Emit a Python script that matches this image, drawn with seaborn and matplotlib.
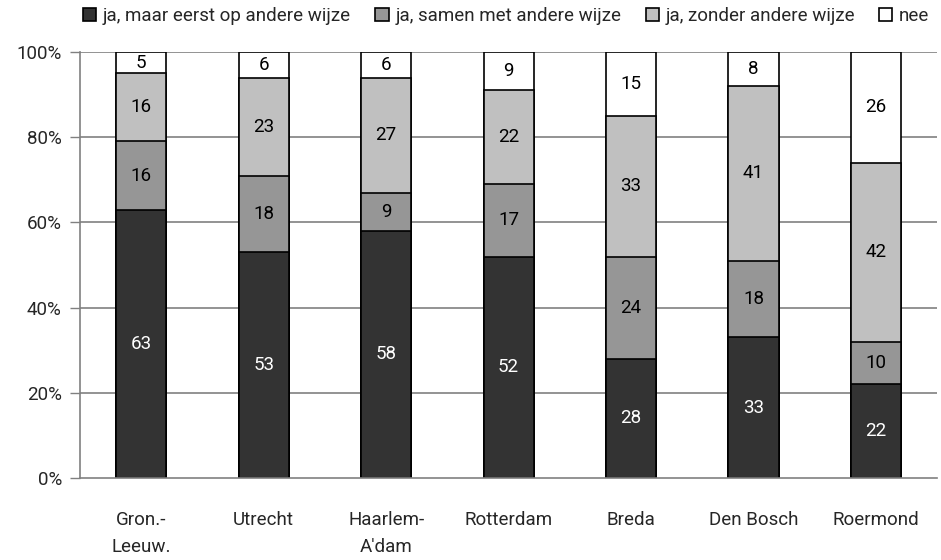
import matplotlib
matplotlib.use("Agg")
import matplotlib.pyplot as plt
import seaborn as sns
import pandas as pd
import numpy as np
from matplotlib.patches import Patch

regions = ["Gron.-\nLeeuw.", "Utrecht", "Haarlem-\nA'dam", "Rotterdam", "Breda", "Den Bosch", "Roermond"]
series_names = ["ja, maar eerst op andere wijze", "ja, samen met andere wijze",
                "ja, zonder andere wijze", "nee"]
eerst_anders = [63, 53, 58, 52, 28, 33, 22]
samen_anders = [16, 18, 9, 17, 24, 18, 10]
zonder_anders = [16, 23, 27, 22, 33, 41, 42]
nee = [5, 6, 6, 9, 15, 8, 26]
yticks = [0, 20, 40, 60, 80, 100]

colors = ["#333333", "#969696", "#c0c0c0", "#ffffff"]
text_colors = ["white", "black", "black", "black"]

sns.set_theme(style="white")
plt.rcParams["font.family"] = ["Roboto", "DejaVu Sans"]

fig = plt.figure(figsize=(9.41, 5.6), dpi=100)
ax = fig.add_axes([0.085, 0.1464, 0.911, 0.7607])

layers = [eerst_anders, samen_anders, zonder_anders, nee]
cum = np.cumsum(np.array(layers), axis=0)

for y in yticks[1:]:
    ax.axhline(y, color="#808080", lw=1.2, zorder=0)

# Draw cumulative totals from top layer down so each lower layer covers the one above
for i in range(len(layers) - 1, -1, -1):
    df = pd.DataFrame({"region": regions, "value": cum[i]})
    sns.barplot(data=df, x="region", y="value", color=colors[i], width=0.41,
                edgecolor="black", linewidth=1.2, saturation=1, ax=ax, zorder=2)

for i, vals in enumerate(layers):
    bottoms = cum[i] - np.array(vals)
    for j, v in enumerate(vals):
        ax.text(j, bottoms[j] + v / 2, str(v), ha="center", va="center",
                color=text_colors[i], fontsize=13.5, zorder=3)

ax.set_xlim(-0.5, len(regions) - 0.5)
ax.set_ylim(0, 100)
ax.set_yticks(yticks)
ax.set_yticklabels([f"{t}%" for t in yticks], fontsize=13.5)
ax.tick_params(axis="y", length=7, width=1, color="#808080", left=True, pad=6)
ax.tick_params(axis="x", length=0, labelsize=13.5, pad=24)
for lbl in ax.get_xticklabels():
    lbl.set_linespacing(1.65)
ax.set_xlabel("")
ax.set_ylabel("")
for s in ["top", "right"]:
    ax.spines[s].set_visible(False)
for s in ["left", "bottom"]:
    ax.spines[s].set_color("#808080")
    ax.spines[s].set_linewidth(1.2)

handles = [Patch(facecolor=c, edgecolor="black", linewidth=1.2) for c in colors]
fig.legend(handles, series_names, loc="center", bbox_to_anchor=(0.538, 0.972), ncol=4,
           frameon=False, fontsize=13.5, handlelength=0.7, handleheight=0.7,
           handletextpad=0.35, columnspacing=1.3)

fig.savefig("out.png", dpi=100)
